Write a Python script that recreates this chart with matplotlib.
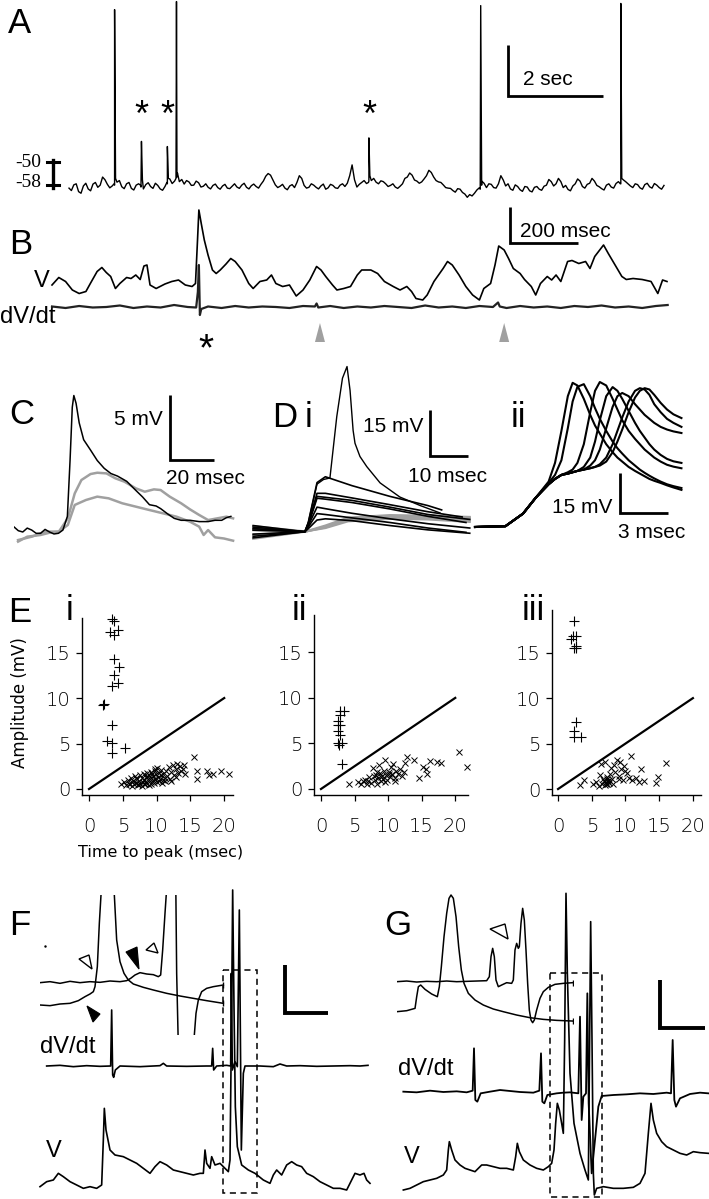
import numpy as np
import matplotlib
matplotlib.use('Agg')
import matplotlib.pyplot as plt
from matplotlib.patches import Polygon, Rectangle

plt.rcParams['font.family'] = ['Liberation Sans', 'DejaVu Sans']

W, H = 709, 1199

# ============================================================
# Data
# ============================================================
# A: long recording, mV vs s (sampled every 0.05 s) + spikes / small events
A_BASE_T = np.round(np.arange(0, 12.45, 0.1), 2)
A_BASE_V = [-58.6, -57.4, -59.9, -57.8, -58.9, -57.1, -58.3, -54.5, -57.2, -57.8,
            -56.4, -58.1, -57.0, -58.7, -57.5, -58.2, -57.3, -58.0, -56.8, -58.9,
            -58.0, -55.2, -56.0, -56.2, -57.1, -56.3, -57.5, -56.6, -57.9, -58.3,
            -57.6, -58.4, -57.8, -58.6, -57.9, -58.2, -57.5, -58.3, -57.7, -58.0,
            -57.2, -54.2, -53.8, -57.4, -57.9, -58.6, -57.8, -58.4, -54.0, -57.6,
            -58.3, -57.5, -58.9, -57.1, -58.5, -57.6, -58.7, -57.0, -56.8, -50.0,
            -58.2, -56.5, -56.9, -55.8, -56.4, -55.9, -57.0, -57.6, -58.2, -57.9,
            -55.0, -53.0, -55.6, -56.8, -55.2, -52.0, -54.5, -56.3, -57.4, -58.6,
            -59.5, -58.8, -60.2, -62.0, -61.5, -59.3, -57.5, -58.4, -57.2, -58.6,
            -54.0, -57.8, -58.9, -57.4, -59.2, -58.0, -59.6, -58.3, -59.0, -57.9,
            -55.4, -57.8, -55.0, -58.4, -59.1, -57.8, -55.2, -58.0, -57.2, -55.0,
            -57.6, -58.8, -57.5, -58.2, -56.9, -57.0, -56.2, -57.8, -57.0, -58.5,
            -57.3, -58.1, -56.9, -58.4, -57.6]
A_MID_T = np.round(np.arange(0.05, 12.4, 0.1), 2)
A_MID_V = [-59.5, -57.0, -60.5, -56.8, -59.6, -56.5, -57.5, -55.5, -58.5, -57.5,
           -55.8, -58.8, -56.5, -59.3, -57.0, -58.9, -56.6, -58.7, -57.6, -59.4,
           -57.0, -56.9, -54.5, -55.4, -55.8, -57.6, -56.0, -58.2, -57.0, -58.9,
           -57.1, -59.0, -57.2, -58.8, -57.0, -58.7, -56.8, -58.9, -57.1, -58.6,
           -56.0, -53.2, -55.6, -58.4, -57.2, -59.2, -57.3, -56.5, -55.0, -58.6,
           -57.0, -58.3, -57.8, -59.0, -57.2, -58.5, -57.5, -58.0, -54.0, -55.5,
           -57.2, -55.8, -56.0, -55.0, -57.0, -56.2, -58.0, -57.0, -58.7, -57.0,
           -54.5, -53.8, -56.0, -56.3, -54.0, -52.8, -55.8, -56.5, -58.4, -58.7,
           -60.1, -59.0, -60.8, -61.0, -60.5, -58.5, -56.8, -57.0, -58.4, -57.0,
           -55.6, -57.0, -59.4, -58.0, -59.8, -58.2, -60.0, -58.0, -59.4, -57.5,
           -56.2, -57.0, -56.2, -57.6, -59.6, -57.0, -56.0, -58.6, -56.8, -56.0,
           -58.1, -59.3, -57.0, -58.6, -56.2, -55.5, -57.0, -58.4, -57.3, -59.0,
           -56.8, -58.6, -57.5, -59.0]
A_EVT_T = [0.94, 0.95, 0.97, 1.49, 1.51, 1.53, 2.04, 2.05, 2.07, 2.23, 2.24, 2.26,
           6.24, 6.25, 6.27, 8.57, 8.58, 8.60, 11.49, 11.50, 11.52]
A_EVT_V = [-57.0, 7.5, -55.0, -57.5, -41.3, -55.5, -56.5, -43.2, -55.0, -55.0, 10.5, -53.0,
           -56.5, -40.0, -54.0, -59.0, 9.0, -56.0, -57.0, 9.8, -55.0]
A_STAR_T = [1.51, 2.05, 6.25]

# B: expanded V (mV) and dV/dt (V/s) vs ms
B_V_T = [0, 20, 40, 60, 80, 100, 113, 133, 147, 160, 173, 187, 200, 220, 233, 247, 260, 271, 280, 289,
         307, 333, 353, 373, 393, 413, 423, 429, 433, 440, 449, 460, 473, 484, 496, 513, 527, 540, 560, 580,
         593, 613, 633, 647, 660, 680, 700, 720, 740, 760, 780, 793, 807, 827, 840, 860, 880, 900, 913, 940,
         960, 980, 1006, 1026, 1046, 1060, 1073, 1093, 1106, 1126, 1153, 1166, 1180, 1200, 1220, 1240, 1260,
         1273, 1293, 1306, 1317, 1333, 1346, 1360, 1380, 1393, 1413, 1426, 1440, 1460, 1473, 1486, 1500, 1520,
         1533, 1553, 1573, 1586, 1600, 1626, 1640, 1660, 1680, 1693, 1713, 1740, 1766, 1786, 1800, 1813]
B_V_V = [-55.0, -53.5, -54.3, -56.0, -56.7, -56.3, -54.7, -52.3, -51.5, -52.5, -53.3, -55.7, -54.7, -53.5,
         -53.7, -53.0, -53.9, -51.2, -51.0, -55.0, -55.7, -54.8, -54.3, -54.0, -55.0, -55.3, -54.7, -46.0,
         -40.0, -42.7, -46.0, -49.0, -52.0, -52.7, -52.0, -50.8, -49.7, -50.3, -52.0, -54.7, -55.7, -54.3,
         -54.0, -53.0, -54.7, -55.3, -55.0, -57.2, -56.0, -54.0, -51.3, -52.0, -53.3, -55.0, -56.0, -55.7,
         -55.3, -53.0, -52.0, -52.0, -52.7, -54.3, -55.3, -56.0, -55.3, -56.3, -57.7, -58.0, -57.0, -54.3,
         -51.7, -50.3, -51.0, -53.0, -55.3, -57.0, -58.0, -55.7, -54.7, -51.0, -47.2, -48.0, -49.7, -51.7,
         -52.7, -53.9, -55.3, -57.0, -54.7, -53.3, -54.0, -53.0, -54.3, -50.3, -50.1, -50.7, -50.3, -51.7,
         -49.3, -47.0, -48.7, -51.0, -53.3, -53.9, -53.7, -53.9, -54.3, -56.7, -54.0, -54.3]
B_DVDT_T = [0, 40, 80, 120, 160, 200, 240, 280, 320, 360, 400, 425, 430, 433, 436, 440, 460,
            500, 540, 580, 620, 660, 700, 740, 775, 780, 785, 820, 860, 900, 940, 980, 1020,
            1060, 1100, 1140, 1180, 1220, 1260, 1300, 1315, 1320, 1340, 1380, 1420, 1460, 1500,
            1540, 1580, 1620, 1660, 1700, 1740, 1780, 1815]
B_DVDT_V = [1, -2, 2, -1, 0, 3, -2, 1, -1, 4, 0, -1, 30, 84, -16, -4, 1,
            -2, 2, -1, 1, 0, -2, 2, 1, 7, -1, 2, -2, 1, -1, 2, 0,
            -2, 3, -1, 1, -2, 2, 0, 9, 1, -2, 2, -1, 1, -2,
            2, 0, 3, -1, 1, -2, 2, 4]
B_STAR_T = 455
B_ARROW_T = [790, 1333]

# C: averaged events (mV vs ms)
C_BLACK_T = [0, 2, 4, 6, 8, 10, 12, 14, 16, 18, 20, 22, 24, 25.2, 26.2, 26.9, 27.9, 29.3, 31.3, 34.4,
             37.4, 40.5, 43.5, 46.5, 50.6, 54.7, 57.7, 60.8, 63.8, 65.8, 68.9, 71.9, 75, 79, 83.1, 87.1,
             90.2, 93.2, 95.3, 97.3]
C_BLACK_V = [0.4, 0.1, 0.0, 0.3, 0.15, -0.1, -0.1, 0.2, 0.0, -0.15, -0.1, 0.15, 1.2, 5.5, 9.6, 10.5,
             9.9, 8.4, 7.1, 6.3, 5.5, 4.9, 4.5, 4.3, 3.9, 3.2, 2.7, 2.1, 2.0, 1.8, 1.4, 1.05, 0.9, 0.9,
             0.8, 0.8, 0.9, 0.9, 1.1, 1.2]
C_GRAY1_T = [1.9, 8.0, 14.1, 20.2, 24.2, 27.3, 30.3, 34.4, 37.4, 41.5, 45.5, 49.6, 54.7, 58.7, 62.8,
             65.8, 69.9, 75, 79, 83.1, 87.1, 91.2, 95.3, 98.3]
C_GRAY1_V = [-0.62, -0.36, 0.03, 0.03, 1.05, 2.97, 4.0, 4.46, 4.56, 4.51, 4.13, 3.87, 3.36, 3.1, 3.28,
             3.23, 2.72, 2.21, 1.74, 1.31, 0.92, 1.05, 1.18, 1.05]
C_GRAY2_T = [1.9, 6.0, 12.0, 16.1, 20.2, 24.2, 27.3, 32.3, 37.4, 42.5, 48.6, 54.7, 60.8, 66.8, 72.9,
             79.0, 83.1, 85.1, 87.1, 90.2, 94.2, 98.3]
C_GRAY2_V = [-0.74, -0.36, -0.23, -0.05, 0.03, 0.54, 2.08, 2.46, 2.72, 2.59, 2.21, 1.95, 1.69, 1.44,
             1.18, 0.79, 0.41, -0.23, 0.15, -0.41, -0.5, -0.67]

# D i: individual events (mV vs ms)
DI_T = [-1, 12.6, 13.5, 15.8, 18, 25, 35, 45]
DI_BLACK = [[-1.5, 0.0, 3.0, 16.0, 17.9, 15.0, 11.5, 8.5],
            [1.0, 0.0, 2.5, 12.5, 12.5, 11.0, 8.8, 6.5],
            [2.0, 0.0, 2.5, 11.5, 11.2, 10.2, 8.0, 5.6],
            [-2.0, 0.0, 2.2, 10.9, 10.6, 9.5, 7.4, 5.0],
            [0.5, 0.0, 2.0, 8.0, 7.5, 6.0, 4.2, 2.6],
            [-0.8, 0.0, 1.5, 5.9, 5.6, 4.5, 3.0, 1.2],
            [1.5, 0.0, 1.0, 3.8, 4.2, 3.6, 2.0, 0.6]]
DI_BLACK_END_T = [48.6, 54, 56, 55, 56, 55, 56]
DI_BLACK_END_V = [7.1, 4.8, 4.0, 3.0, 1.2, -0.2, -0.5]
DI_SPIKE_T = [-1, 12.6, 13.5, 15.8, 17.5, 19.2, 21.0, 22.5, 23.7, 24.5, 25.3, 25.8, 27.1, 28.9, 32.4,
              37.6, 43, 48.2]
DI_SPIKE_V = [1.0, 0.0, 3, 15.5, 17.0, 17.5, 37.5, 50, 53.8, 46, 33, 28.8, 24.5, 21.2, 15.9,
              11.3, 8.5, 6.1]
DI_GRAY_T = [-1, 12.6, 18, 24, 35, 45, 56]
DI_GRAY = [[-2.3, 0, 2.0, 4.6, 5.4, 5.2, 4.8],
           [-1.0, 0, 1.6, 4.0, 5.0, 4.9, 4.4],
           [0.5, 0, 1.4, 3.8, 4.6, 4.4, 3.8],
           [1.8, 0.1, 1.2, 3.4, 4.2, 4.0, 3.2]]

# D ii: spikes aligned on onset (mV vs ms)
DII_T = [0, 1.9, 3.0, 3.8, 4.6, 5.0, 5.4, 5.8, 6.1, 6.4, 6.8, 7.2, 7.5, 7.8, 8.2, 8.6, 8.9, 9.2,
         9.6, 10.0, 10.3, 10.6, 10.9, 11.2, 11.6, 12.0, 12.4, 12.9]
DII_TRACES = [
    [0, 0.3, 5, 11, 17, 24, 36, 49, 54, 53, 48, 42, 38, 35, 31, 28, 26, 24.5,
     22.5, 21, 20, 19, 18, 17.3, 16.5, 15.6, 14.8, 13.9],
    [0, 0.3, 5, 11, 16.5, 19.5, 25, 37, 47, 52.5, 53.5, 49, 44.5, 40.5, 36, 32, 29.5, 27.5,
     25, 23, 21.5, 20.3, 19.2, 18.2, 17, 16, 15.3, 14.6],
    [0, 0.3, 5, 11, 16, 18, 19.5, 20.5, 21.5, 24, 31, 43, 51, 54.3, 53, 48, 44, 40,
     36, 33, 31, 29, 27.5, 26, 24.5, 23.3, 22.6, 22],
    [0, 0.3, 5, 11, 16, 18, 19.5, 20, 20.5, 21, 22.5, 26, 32, 40, 49, 52.4, 51, 48,
     43.5, 39, 36, 33.5, 31, 29, 27, 25.5, 24.6, 24],
    [0, 0.3, 5, 11, 16, 18, 19.5, 20, 20.5, 21, 21.5, 23, 25, 29, 37, 45, 49, 50.2,
     49, 46, 44, 42, 40.5, 39, 37.5, 36.5, 35.8, 35.2],
    [0, 0.3, 5, 11, 16, 18, 19.5, 20, 20.5, 21, 21.5, 22, 22.5, 23.5, 26, 31, 36, 41,
     47, 51, 52, 51.5, 49.5, 46, 43, 40.5, 39, 37.5],
    [0, 0.3, 5, 11, 16, 18, 19.5, 20, 20.5, 21, 21.5, 22, 22.5, 23, 24.5, 28, 32, 36.5,
     43, 48.5, 51, 52, 51.5, 49.5, 46.5, 44, 42.2, 40.8]]

# E: amplitude (mV) vs time to peak (ms)
EI_PLUS_X = [3.4, 3.7, 4.3, 3.1, 3.7, 3.7, 4.5, 3.7, 4.3, 3.4, 2.2, 2.0, 3.4, 2.6, 3.4, 3.4, 5.3]
EI_PLUS_Y = [18.7, 18.5, 17.5, 17.3, 16.9, 14.3, 13.4, 12.5, 11.6, 11.3, 9.3, 9.2, 7.0, 5.3, 5.1, 4.0, 4.5]
EI_CROSS = [(4.8, 0.5), (5.2, 0.8), (5.5, 0.4), (5.8, 1.0), (6.0, 0.6), (6.2, 1.2), (6.4, 0.3), (6.5, 0.9),
            (6.7, 0.5), (6.8, 1.4), (7.0, 0.7), (7.1, 1.1), (7.2, 0.4), (7.4, 0.9), (7.5, 1.5), (7.6, 0.6),
            (7.8, 1.2), (7.9, 0.3), (8.0, 0.8), (8.1, 1.6), (8.2, 1.0), (8.3, 0.5), (8.4, 1.3), (8.5, 0.7),
            (8.6, 1.8), (8.7, 1.1), (8.8, 0.4), (8.9, 1.5), (9.0, 0.9), (9.1, 1.2), (9.2, 0.6), (9.3, 1.7),
            (9.4, 1.0), (9.5, 1.4), (9.6, 0.7), (9.7, 2.0), (9.8, 1.1), (9.9, 1.6), (10.0, 0.8), (10.1, 2.3),
            (10.2, 1.3), (10.3, 1.8), (10.4, 0.9), (10.6, 1.5), (10.7, 2.1), (10.9, 1.0), (11.0, 1.7),
            (11.2, 1.2), (11.4, 2.0), (11.6, 1.4), (11.8, 2.4), (12.0, 1.1), (12.2, 1.9), (12.4, 2.6),
            (12.6, 1.5), (12.8, 2.2), (13.0, 2.8), (13.2, 1.8), (13.4, 2.5), (13.6, 2.0), (13.9, 2.2),
            (14.2, 1.6), (15.6, 3.5), (15.9, 1.1), (16.0, 2.0), (17.5, 2.0), (17.8, 1.5), (18.3, 1.6),
            (19.5, 2.0), (20.7, 1.7), (6.3, 0.8), (7.3, 0.5), (8.1, 0.6), (9.2, 1.9), (10.5, 1.1),
            (11.3, 0.9), (5.9, 0.5), (6.9, 1.2), (8.6, 1.4), (9.8, 2.2), (12.9, 1.3), (14.0, 2.6),
            (12.1, 0.9), (10.8, 0.7)]
EII_PLUS_X = [2.9, 3.5, 2.9, 2.5, 2.9, 2.5, 2.9, 2.5, 3.2, 2.7, 3.2, 2.5]
EII_PLUS_Y = [8.6, 8.6, 8.1, 7.5, 7.0, 6.4, 5.9, 5.1, 5.1, 4.8, 2.7, 7.0]
EII_CROSS = [(4.2, 0.5), (5.5, 0.8), (6.0, 0.5), (6.5, 1.0), (6.8, 0.6), (7.2, 1.3), (7.5, 0.7), (7.8, 2.3),
             (8.0, 1.0), (8.2, 1.5), (8.3, 0.6), (8.5, 1.2), (8.7, 2.6), (8.8, 1.8), (9.0, 0.9), (9.1, 1.4),
             (9.3, 1.1), (9.4, 2.0), (9.6, 3.2), (9.7, 1.5), (9.9, 1.0), (10.1, 1.9), (10.3, 1.3),
             (10.5, 2.4), (10.6, 1.6), (10.8, 2.7), (11.0, 1.2), (11.2, 2.0), (11.5, 1.7), (11.8, 2.2),
             (12.0, 1.4), (12.3, 1.9), (12.8, 3.5), (13.9, 3.2), (14.6, 1.2), (15.2, 2.4), (15.6, 2.2),
             (15.8, 1.6), (16.2, 3.1), (17.3, 3.0), (17.9, 2.9), (20.5, 4.1), (21.8, 2.4), (7.9, 1.4),
             (8.9, 1.3), (9.5, 0.8), (10.2, 1.7), (11.1, 0.9), (12.5, 2.8), (6.2, 0.9), (7.0, 0.9),
             (8.4, 1.9)]
EIII_PLUS_X = [2.4, 2.2, 2.7, 1.9, 2.6, 2.4, 2.7, 2.6, 2.4, 2.4, 3.4]
EIII_PLUS_Y = [18.5, 16.8, 16.8, 16.5, 15.7, 15.5, 15.5, 7.4, 6.4, 5.7, 5.7]
EIII_CROSS = [(3.2, 0.4), (3.8, 1.0), (5.2, 0.5), (5.6, 0.8), (6.0, 0.3), (6.2, 1.5), (6.3, 2.8), (6.5, 0.6),
              (6.7, 1.1), (6.9, 0.4), (7.0, 3.0), (7.1, 0.8), (7.2, 1.3), (7.3, 0.5), (7.4, 0.9), (7.5, 1.0),
              (7.6, 0.7), (7.7, 1.6), (7.8, 2.3), (8.0, 1.1), (8.3, 2.6), (8.5, 1.9), (8.8, 3.2), (9.0, 1.4),
              (9.2, 3.0), (9.4, 2.2), (9.6, 1.0), (9.8, 2.5), (10.0, 2.0), (10.2, 1.8), (10.5, 1.2),
              (10.8, 3.6), (11.0, 1.0), (11.5, 1.2), (12.0, 0.8), (12.3, 2.2), (12.8, 0.9), (14.5, 0.7),
              (14.8, 1.3), (16.0, 2.9), (7.1, 0.6), (7.3, 1.1), (6.8, 0.9), (8.2, 0.6), (9.1, 1.1)]
E_TICKS_X = [0, 5, 10, 15, 20]
E_TICKS_Y = [0, 5, 10, 15]

# F: V and dV/dt (a.u. vs ms), plus inset sweeps
F_V_T = [0, 20, 40, 55, 70, 90, 110, 130, 150, 170, 185, 190, 193, 198, 210, 225, 250, 270, 290, 310,
         330, 345, 360, 380, 400, 420, 440, 460, 480, 490, 495, 500, 510, 515, 525, 540, 555, 565, 570,
         575, 578, 582, 586, 592, 605, 625, 645, 670, 690, 700, 710, 725, 740, 755, 770, 785, 800, 820,
         840, 860, 880, 900, 920, 935, 945, 960, 972, 980, 990]
F_V_V = [0, 15, 20, 40, 30, 15, 5, -5, 0, -5, 5, 140, 235, 170, 110, 95, 90, 80, 70, 55,
         40, 60, 75, 65, 50, 45, 40, 35, 40, 40, 110, 70, 55, 90, 65, 70, 55, 45, 80,
         540, 890, 540, 240, 120, 65, 50, 40, 20, 10, 35, 50, 35, 65, 75, 65, 60, 40, 30,
         15, 5, -5, -5, -10, 20, 40, 35, 40, 20, 10]
F_DVDT_T = [20, 60, 100, 140, 180, 212, 215, 218, 221, 226, 240, 300, 360, 370, 380, 440, 500, 515, 518,
            521, 530, 560, 572, 574, 577, 585, 592, 598, 604, 610, 615, 660, 700, 720, 740, 780, 830, 880,
            930, 960, 984]
F_DVDT_V = [0, 2, -2, 1, -1, 0, 168, -27, -34, -12, 0, -2, 1, 8, 0, -1, 0, 0, 53,
            -12, 0, 2, 0, 278, -12, 13, -2, 468, -252, -22, 0, 0, -2, 6, 0, 1, -1, 0,
            1, 0, 2]
F_IN1_T = [0, 30, 60, 90, 120, 150, 180, 210, 240, 260, 272, 285, 300, 320, 340, 355, 362, 368, 375,
           383, 395, 407, 410, 415, 440, 460, 463, 468, 475, 485, 500, 520, 550]
F_IN1_V = [0, 3, -2, 4, 0, 3, 1, 5, 3, 6, 13, 23, 30, 26, 24, 18, 23, 98, 208,
           328, 368, 328, 28, -192, -272, -212, -157, -92, -52, -27, -17, -12, -7]
F_IN2_T = [0, 30, 60, 90, 115, 135, 150, 160, 165, 172, 178, 183, 190, 218, 223, 230, 240, 252, 265,
           280, 310, 340, 380, 420, 460, 500, 550]
F_IN2_V = [-67, -69, -64, -62, -54, -42, -34, -27, -12, 48, 178, 263, 368, 368, 263, 128, 63, 28, 8,
           -4, -14, -22, -32, -40, -47, -54, -62]

# G: V and dV/dt (a.u. vs ms), plus inset sweeps
G_V_T = [0, 20, 40, 60, 80, 100, 120, 130, 135, 138, 145, 155, 170, 185, 200, 215, 225, 235, 250, 270,
         290, 310, 330, 337, 342, 348, 360, 380, 400, 420, 435, 445, 452, 457, 462, 468, 475, 480, 484,
         488, 492, 500, 512, 530, 545, 555, 558, 562, 566, 570, 573, 580, 600, 630, 660, 690, 710, 725,
         735, 743, 750, 760, 775, 790, 810, 830, 850, 870, 890, 915]
G_V_V = [0, 5, 15, 25, 30, 35, 45, 60, 120, 145, 120, 90, 75, 65, 60, 55, 65, 75, 75, 70,
         65, 65, 60, 100, 140, 115, 90, 75, 65, 60, 70, 80, 120, 200, 260, 240, 200, 170, 450,
         890, 650, 350, 200, 110, 60, 30, 350, 805, 450, 50, -15, 5, 10, 5, 5, 8, 20, 50,
         170, 260, 210, 170, 145, 130, 120, 110, 105, 115, 112, 110]
G_DVDT_T = [0, 40, 80, 120, 160, 190, 208, 212, 216, 222, 232, 260, 290, 310, 350, 390, 408, 413, 417,
            423, 432, 460, 480, 500, 525, 530, 535, 540, 548, 552, 556, 565, 575, 585, 595, 630, 670,
            710, 750, 790, 803, 808, 813, 818, 830, 860, 890, 915]
G_DVDT_V = [2, 0, 5, 1, 3, 0, 5, 132, -23, -28, -3, 2, 7, 5, 1, -1, 5, 117, -28,
            -33, -8, -3, -1, 0, -3, 227, -83, -13, -3, 297, -33, -243, -143, -43, -11, -8, -6,
            -3, -5, -1, -3, 157, -23, -43, -18, -5, -1, -3]
G_IN1_T = [0, 30, 60, 90, 120, 150, 180, 210, 240, 270, 278, 283, 288, 293, 298, 305, 315, 330, 345,
           350, 355, 360, 365, 368, 373, 378, 383, 388, 393, 398, 403, 408, 413, 420, 430, 440, 455,
           475, 500, 528]
G_IN1_V = [0, 2, -1, 1, 0, 2, 0, 1, 2, 3, 15, 75, 100, 75, 5, -15, -10, -3, -5,
           5, 95, 115, 100, 105, 175, 220, 185, 95, -5, -85, -115, -123, -115, -85, -50, -30, -17,
           -8, -5, -3]
G_IN2_T = [0, 30, 55, 60, 65, 72, 85, 105, 122, 128, 134, 142, 150, 157, 163, 170, 178, 186, 194,
           202, 215, 235, 260, 290, 320, 360, 400, 440, 480, 528]
G_IN2_V = [-90, -87, -80, -45, -15, -10, -23, -37, -45, -15, 45, 135, 205, 250, 260, 250, 195, 105, 35,
           -5, -35, -55, -70, -82, -90, -100, -108, -113, -116, -118]

# ============================================================
# Figure
# ============================================================
fig = plt.figure(figsize=(W / 100, H / 100), dpi=100)


def panel(x0, y0, x1, y1, xlim, ylim):
    """Invisible axes placed by pixel box (top-left origin)."""
    ax = fig.add_axes([x0 / W, 1 - y1 / H, (x1 - x0) / W, (y1 - y0) / H])
    ax.set_xlim(*xlim)
    ax.set_ylim(*ylim)
    ax.axis('off')
    return ax


# ---- A ----  (-58 mV at y=186.5, 2.7 px/mV; 0..12.4 s over x 69..664)
axA = panel(69, 0, 664, 200, (0, 12.4), (-58 - 13.5 / 2.7, -58 + 186.5 / 2.7))
a_t = np.concatenate([A_BASE_T, A_MID_T, A_EVT_T])
a_v = np.concatenate([A_BASE_V, A_MID_V, A_EVT_V])
order = np.argsort(a_t, kind='stable')
axA.plot(a_t[order], a_v[order], color='k', lw=1.0, clip_on=False)

# ---- B ----
axB = panel(52, 200, 668, 330, (0, 1816), (-64, -38))
axB.plot(B_V_T, B_V_V, color='k', lw=1.2, clip_on=False)
axBd = panel(52, 200, 668, 330, (0, 1816), (-46, 214))
axBd.plot(B_DVDT_T, B_DVDT_V, color='#222222', lw=1.6, clip_on=False)

# ---- C ----
axC = panel(14, 385, 240, 550, (0.07, 101.4), (-1.385, 11.31))
axC.plot(C_GRAY1_T, C_GRAY1_V, color='#a0a0a0', lw=1.8)
axC.plot(C_GRAY2_T, C_GRAY2_V, color='#a0a0a0', lw=1.8)
axC.plot(C_BLACK_T, C_BLACK_V, color='k', lw=1.1)

# ---- D i ----
axDi = panel(250, 360, 480, 550, (-1.84, 58.7), (-5.96, 55.93))
for tr in DI_GRAY:
    axDi.plot(DI_GRAY_T, tr, color='#a0a0a0', lw=1.6)
for tr, te, ve in zip(DI_BLACK, DI_BLACK_END_T, DI_BLACK_END_V):
    axDi.plot(DI_T + [te], tr + [ve], color='k', lw=1.2)
axDi.plot(DI_SPIKE_T, DI_SPIKE_V, color='k', lw=1.0)

# ---- D ii ----
axDii = panel(470, 370, 700, 540, (-0.3125, 14.06), (-4.87, 58.8))
for tr in DII_TRACES:
    axDii.plot(DII_T, tr, color='k', lw=1.5, solid_joinstyle='round')


# ---- E ----
def scatter_panel(box, xlim, ylim, px, py, cross):
    x0, y0, x1, y1 = box
    ax = fig.add_axes([x0 / W, 1 - y1 / H, (x1 - x0) / W, (y1 - y0) / H])
    cx = [c[0] for c in cross]
    cy = [c[1] for c in cross]
    ax.plot(cx, cy, 'x', color='k', ms=5, mew=0.7, clip_on=False)
    ax.plot(px, py, '+', color='k', ms=7, mew=0.8, clip_on=False)
    ax.plot([0, 20], [0, 10], color='k', lw=1.6)
    ax.set_xlim(*xlim)
    ax.set_ylim(*ylim)
    for s in ['top', 'right']:
        ax.spines[s].set_visible(False)
    for s in ['left', 'bottom']:
        ax.spines[s].set_linewidth(1.0)
    ax.set_xticks(E_TICKS_X)
    ax.set_yticks(E_TICKS_Y)
    ax.tick_params(direction='out', length=4, width=0.9)
    ax.tick_params(axis='x', pad=12)
    ax.tick_params(axis='y', pad=4)
    for lab in ax.get_xticklabels() + ax.get_yticklabels():
        lab.set_family('DejaVu Sans')
        lab.set_fontsize(14)
        lab.set_fontweight('light')
    ax.patch.set_alpha(0)
    return ax


scatter_panel((82, 618, 233, 795), (-1.04, 21.3), (-0.66, 18.8), EI_PLUS_X, EI_PLUS_Y, EI_CROSS)
scatter_panel((314, 615, 468, 795), (-1.04, 21.9), (-0.66, 19.1), EII_PLUS_X, EII_PLUS_Y, EII_CROSS)
scatter_panel((552, 610, 701, 795), (-0.9, 21.2), (-0.66, 19.7), EIII_PLUS_X, EIII_PLUS_Y, EIII_CROSS)

# ---- F ----
axF = panel(0, 840, 375, 1199, (-120, 1005), (-37, 1040))
axF.plot(F_V_T, F_V_V, color='k', lw=1.2)
axF.plot(F_DVDT_T, np.array(F_DVDT_V) + 362, color='k', lw=1.2)
axFi = panel(40, 895, 227, 1035, (0, 561), (-157, 263))
axFi.plot(F_IN1_T, F_IN1_V, color='k', lw=1.1, marker='|', ms=5, markevery=[-1])
axFi.plot(F_IN2_T, F_IN2_V, color='k', lw=1.1, marker='|', ms=5, markevery=[-1])

# ---- G ----
axG = panel(350, 840, 709, 1199, (-160, 917), (-27, 1050))
axG.plot(G_V_T, G_V_V, color='k', lw=1.2)
axG.plot(G_DVDT_T, np.array(G_DVDT_V) + 293, color='k', lw=1.3)
axGi = panel(396.7, 890, 573.3, 1026.7, (0, 530), (-135, 275))
axGi.plot(G_IN1_T, G_IN1_V, color='k', lw=1.1, marker='|', ms=5, markevery=[-1])
axGi.plot(G_IN2_T, G_IN2_V, color='k', lw=1.1, marker='|', ms=5, markevery=[-1])

# ============================================================
# Overlay: labels, scale bars, markers (pixel coordinates)
# ============================================================
ov = fig.add_axes([0, 0, 1, 1])
ov.set_xlim(0, W)
ov.set_ylim(H, 0)
ov.axis('off')
ov.set_zorder(10)

for txt, x, y in [('A', 8, 33), ('B', 9, 254), ('C', 9, 424), ('D', 272, 427), ('i', 305, 427),
                  ('ii', 511, 427), ('E', 8, 622), ('i', 66, 620), ('ii', 292, 620), ('iii', 522, 620),
                  ('F', 9, 935), ('G', 384, 935)]:
    ov.text(x, y, txt, fontsize=25, va='baseline', ha='left')


def sbar(x, ytop, ybot, xright, lw=2.0):
    ov.plot([x, x, xright], [ytop, ybot, ybot], color='k', lw=lw, solid_joinstyle='miter',
            solid_capstyle='butt')


sbar(508, 45, 96, 603)
ov.text(523, 85, '2 sec', fontsize=15, va='baseline')
sbar(510, 207, 243, 578)
ov.text(520, 237, '200 msec', fontsize=15, va='baseline')
sbar(170, 395, 460, 214)
ov.text(163, 425, '5 mV', fontsize=15, va='baseline', ha='right')
ov.text(166, 484, '20 msec', fontsize=15, va='baseline')
sbar(430, 410, 456, 468)
ov.text(423, 432, '15 mV', fontsize=15, va='baseline', ha='right')
ov.text(408, 482, '10 msec', fontsize=15, va='baseline')
sbar(620, 473, 513, 668)
ov.text(612, 513, '15 mV', fontsize=15, va='baseline', ha='right')
ov.text(618, 538, '3 msec', fontsize=15, va='baseline')
sbar(285, 965, 1013, 328, lw=2.8)
sbar(660, 980, 1028, 705, lw=2.8)

# A: mV calibration and asterisks
ov.plot([53, 53], [160, 188], color='k', lw=2.4)
ov.plot([47, 59], [162, 162], color='k', lw=2.2)
ov.plot([47, 59], [185, 185], color='k', lw=2.2)
ov.text(15, 167, '-50', fontsize=14, family='Liberation Serif', va='baseline')
ov.text(15, 187, '-58', fontsize=14, family='Liberation Serif', va='baseline')
for t in A_STAR_T:
    xs = 69 + t / 12.4 * 595
    ov.text(xs, 126, '*', fontsize=26, ha='center', va='baseline')

# B labels, asterisk, gray arrowheads
ov.text(34, 287, 'V', fontsize=17, va='baseline')
ov.text(0, 323, 'dV/dt', fontsize=17, va='baseline')
ov.text(52 + B_STAR_T / 1816 * 616, 360, '*', fontsize=28, ha='center', va='baseline')
for t in B_ARROW_T:
    xa = 52 + t / 1816 * 616
    ov.add_patch(Polygon([[xa, 323], [xa - 5, 342], [xa + 5, 342]], closed=True,
                         facecolor='#a0a0a0', edgecolor='none'))

# E axis titles
ov.text(20, 703, 'Amplitude (mV)', rotation=90, fontsize=12, family='DejaVu Sans',
        ha='center', va='center')
ov.text(161, 853, 'Time to peak (msec)', fontsize=11.5, family='DejaVu Sans',
        ha='center', va='center')

# F / G labels
ov.text(40, 1053, 'dV/dt', fontsize=17, va='baseline')
ov.text(46, 1157, 'V', fontsize=17, va='baseline')
ov.text(398, 1075, 'dV/dt', fontsize=17, va='baseline')
ov.text(404, 1163, 'V', fontsize=17, va='baseline')
ov.plot(45, 946, marker='.', color='k', ms=1.5)

# arrowheads in insets
open_tris = [[(79, 959), (89, 955), (92, 969)],
             [(146, 950), (154, 943), (158, 953)],
             [(490, 929), (505, 924), (508, 939)]]
filled_tris = [[(126, 952), (137, 947), (139, 969)],
               [(87, 1006), (93, 1022), (100, 1014)]]
for tri in open_tris:
    ov.add_patch(Polygon(tri, closed=True, facecolor='white', edgecolor='k', lw=1.0))
for tri in filled_tris:
    ov.add_patch(Polygon(tri, closed=True, facecolor='k', edgecolor='k', lw=0.8))

# dashed boxes
ov.add_patch(Rectangle((223, 970), 34, 223, fill=False, edgecolor='k', lw=1.1,
                       linestyle=(0, (4, 3))))
ov.add_patch(Rectangle((550, 973), 52, 224, fill=False, edgecolor='k', lw=1.1,
                       linestyle=(0, (4, 3))))

fig.savefig('out.png', dpi=100, facecolor='white')
